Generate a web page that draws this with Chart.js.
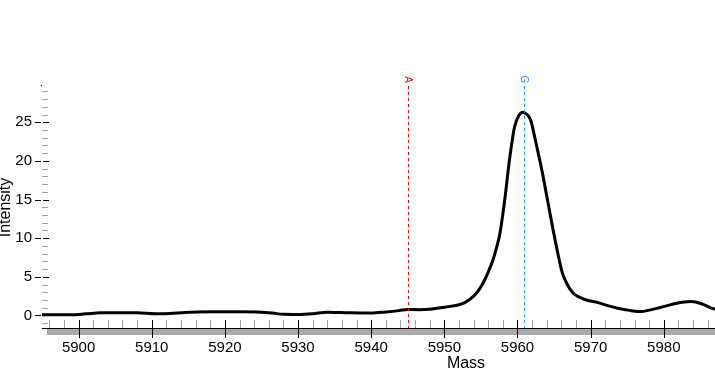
<!DOCTYPE html>
<html>
<head>
<meta charset="utf-8">
<script src="https://cdn.jsdelivr.net/npm/chart.js@4"></script>
<style>
  html, body { margin: 0; padding: 0; background: #fff; }
</style>
</head>
<body>
<canvas id="massChart" width="715" height="373"></canvas>
<script>
// spectrum
const massValues = [
    5895, 5899, 5901, 5903, 5908, 5910.5, 5912.5, 5914.5, 5918, 5922,
    5925, 5926.5, 5928, 5930, 5932, 5934, 5937, 5940, 5942, 5943.8,
    5945, 5946.5, 5948, 5949.5, 5951, 5952.3, 5953.5, 5954.5, 5955.3, 5956,
    5956.65, 5957.2, 5957.6, 5958.25, 5958.9, 5959.6, 5960.2, 5960.75, 5961.3, 5961.8,
    5962.35, 5963, 5963.5, 5964.6, 5965.5, 5966.1, 5966.7, 5967.6, 5968.5, 5969.4,
    5971, 5972.6, 5974, 5975.3, 5976.9, 5978, 5979.4, 5981, 5982.5, 5983.8,
    5985.3, 5986.5, 5987.5
];
const intensityValues = [
    0.1, 0.1, 0.2, 0.33, 0.35, 0.22, 0.25, 0.38, 0.47, 0.48,
    0.42, 0.3, 0.14, 0.12, 0.22, 0.42, 0.35, 0.32, 0.45, 0.62,
    0.78, 0.74, 0.8, 1.0, 1.2, 1.45, 2.1, 3.0, 4.2, 5.6,
    7.2, 9.0, 10.6, 14.9, 20.1, 24.4, 25.9, 26.3, 26.0, 25.3,
    23.1, 20.3, 18.0, 12.4, 8.1, 5.6, 4.2, 2.9, 2.35, 2.0,
    1.65, 1.2, 0.85, 0.65, 0.5, 0.68, 1.0, 1.4, 1.7, 1.8,
    1.45, 0.95, 0.7
];
const xTickLabels = [5900, 5910, 5920, 5930, 5940, 5950, 5960, 5970, 5980];
const yTickLabels = [0, 5, 10, 15, 20, 25];
const markerNames = ['A', 'G'];
const markerMasses = [5945, 5960.9];

const FONT = "'Liberation Sans', Arial, sans-serif";
const markerColors = ['#ff0000', '#1e90ff'];

const massAxesPlugin = {
    id: 'massAxes',
    afterDatasetsDraw(chart) {
        const { ctx, chartArea, scales } = chart;
        const x = scales.x;
        const y = scales.y;
        const bottom = Math.round(chartArea.bottom);
        const left = Math.round(chartArea.left);

        ctx.save();

        // markers
        markerMasses.forEach((m, i) => {
            const px = Math.round(x.getPixelForValue(m)) + 0.5;
            ctx.strokeStyle = markerColors[i];
            ctx.lineWidth = 1;
            ctx.setLineDash([3, 3]);
            ctx.beginPath();
            ctx.moveTo(px, chartArea.top);
            ctx.lineTo(px, bottom);
            ctx.stroke();

            ctx.setLineDash([]);
            ctx.save();
            ctx.translate(px - 1, 79.5);
            ctx.rotate(Math.PI / 2);
            ctx.fillStyle = markerColors[i];
            ctx.font = '10px ' + FONT;
            ctx.textAlign = 'center';
            ctx.textBaseline = 'middle';
            ctx.fillText(markerNames[i], 0, 0);
            ctx.restore();
        });

        // scrollbar-like band under the axis
        ctx.fillStyle = '#aaaaaa';
        ctx.fillRect(47, bottom, chartArea.right - 47, 6);

        // x axis line
        ctx.fillStyle = '#000';
        ctx.fillRect(left, bottom - 1, chartArea.right - left, 1);

        // x ticks
        for (let v = Math.ceil(x.min / 2) * 2; v <= x.max; v += 2) {
            const px = Math.round(x.getPixelForValue(v));
            if (v % 10 === 0) {
                ctx.fillStyle = '#000';
                ctx.fillRect(px, bottom - 9, 1, 18);
            } else {
                ctx.fillStyle = '#a0a0a0';
                ctx.fillRect(px, bottom - 9, 1, 8);
            }
        }

        // y ticks
        for (let v = Math.ceil(y.min); v <= y.max; v++) {
            const py = Math.round(y.getPixelForValue(v));
            if (v % 5 === 0) {
                ctx.fillStyle = '#000';
                ctx.fillRect(left - 7, py, 6, 1);
                ctx.fillRect(left + 1, py, 6, 1);
            } else {
                ctx.fillStyle = '#a0a0a0';
                ctx.fillRect(left, py, 6, 1);
            }
        }

        ctx.fillStyle = '#000';
        ctx.fillRect(left - 1, Math.round(chartArea.top) - 1, 1, 1);

        // x axis title
        ctx.font = '16px ' + FONT;
        ctx.textAlign = 'center';
        ctx.textBaseline = 'middle';
        ctx.fillText('Mass', 466, 364);

        ctx.restore();
    }
};

function renderMassChart() {
    const canvas = document.getElementById('massChart');

    new Chart(canvas, {
        type: 'scatter',
        data: {
            datasets: [{
                data: massValues.map((m, i) => ({ x: m, y: intensityValues[i] })),
                showLine: true,
                borderColor: '#000',
                borderWidth: 3,
                pointRadius: 0,
                cubicInterpolationMode: 'monotone'
            }]
        },
        options: {
            responsive: false,
            animation: false,
            devicePixelRatio: 1,
            layout: { padding: { top: 86, right: 0, bottom: 0, left: 0 } },
            plugins: {
                legend: { display: false },
                tooltip: { enabled: false }
            },
            scales: {
                x: {
                    type: 'linear',
                    min: 5895,
                    max: 5987,
                    grid: { display: false, drawTicks: false },
                    border: { display: false },
                    afterBuildTicks: scale => {
                        scale.ticks = xTickLabels.map(v => ({ value: v }));
                    },
                    afterFit: scale => { scale.height = 44; },
                    ticks: {
                        padding: 10,
                        maxRotation: 0,
                        autoSkip: false,
                        color: '#000',
                        font: { family: FONT, size: 15 },
                        callback: value => String(value)
                    }
                },
                y: {
                    min: -1.76,
                    max: 29.7,
                    grid: { display: false, drawTicks: false },
                    border: { display: false },
                    afterBuildTicks: scale => {
                        scale.ticks = yTickLabels.map(v => ({ value: v }));
                    },
                    afterFit: scale => { scale.width = 42; },
                    ticks: {
                        padding: 10,
                        color: '#000',
                        font: { family: FONT, size: 15 },
                        callback: value => String(value)
                    },
                    title: {
                        display: true,
                        text: 'Intensity',
                        color: '#000',
                        padding: { top: -2, bottom: 0 },
                        font: { family: FONT, size: 16, lineHeight: 1 }
                    }
                }
            }
        },
        plugins: [massAxesPlugin]
    });
}

renderMassChart();
</script>
</body>
</html>
